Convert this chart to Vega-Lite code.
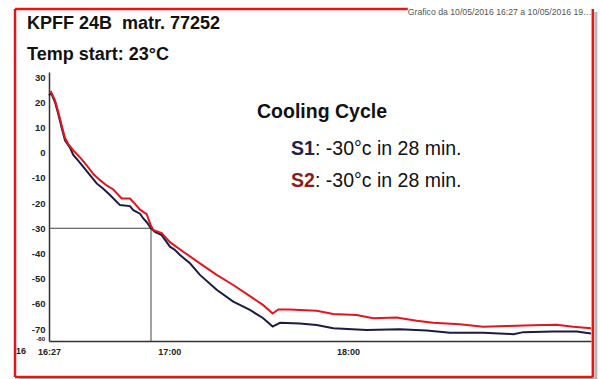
{
  "$schema": "https://vega.github.io/schema/vega-lite/v6.json",
  "width": 542,
  "height": 269,
  "autosize": {"type": "none"},
  "padding": {"left": 49, "top": 72, "right": 9, "bottom": 38},
  "background": "white",
  "config": {"font": "Liberation Sans", "view": {"stroke": null}, "axis": {"labelOverlap": false}},
  "resolve": {"axis": {"x": "independent", "y": "independent"}},
  "layer": [
    {
      "data": {"values": [{}]},
      "mark": {"type": "rule", "color": "#9a9a9a", "strokeWidth": 3, "opacity": 0.7},
      "encoding": {"x": {"datum": 150.15, "type": "quantitative", "axis": null}, "y": {"datum": 55.8, "type": "quantitative", "axis": null}, "y2": {"datum": -89.8}}
    },
    {
      "data": {"values": [{}]},
      "mark": {"type": "rule", "color": "#9a9a9a", "strokeWidth": 3, "opacity": 0.7},
      "encoding": {"x": {"datum": -8.24, "type": "quantitative", "axis": null}, "x2": {"datum": 150.15}, "y": {"datum": -89.7, "type": "quantitative", "axis": null}}
    },
    {
      "data": {"values": [{}]},
      "mark": {"type": "rule", "color": "#e8141c", "strokeWidth": 2.5},
      "encoding": {"x": {"datum": -9.33, "type": "quantitative", "axis": null}, "y": {"datum": 57, "type": "quantitative", "axis": null}, "y2": {"datum": -89.0}}
    },
    {
      "data": {"values": [{}]},
      "mark": {"type": "rule", "color": "#e8141c", "strokeWidth": 2.5},
      "encoding": {"x": {"datum": 149.3, "type": "quantitative", "axis": null}, "y": {"datum": 57, "type": "quantitative", "axis": null}, "y2": {"datum": -89.0}}
    },
    {
      "data": {"values": [{}]},
      "mark": {"type": "rule", "color": "#e8141c", "strokeWidth": 2.5},
      "encoding": {"x": {"datum": -9.33, "type": "quantitative", "axis": null}, "x2": {"datum": 149.3}, "y": {"datum": -89.0, "type": "quantitative", "axis": null}}
    },
    {
      "data": {"values": [{}]},
      "mark": {"type": "rule", "color": "#e8141c", "strokeWidth": 2.5},
      "encoding": {"x": {"datum": -9.33, "type": "quantitative", "axis": null}, "x2": {"datum": 98.5}, "y": {"datum": 57, "type": "quantitative", "axis": null}}
    },
    {
      "data": {"values": [{}]},
      "mark": {"type": "rule", "color": "#444444", "strokeWidth": 1},
      "encoding": {"x": {"datum": 0, "type": "quantitative", "axis": null}, "x2": {"datum": 28}, "y": {"datum": -30, "type": "quantitative", "axis": null}}
    },
    {
      "data": {"values": [{}]},
      "mark": {"type": "rule", "color": "#444444", "strokeWidth": 1},
      "encoding": {"x": {"datum": 28, "type": "quantitative", "axis": null}, "y": {"datum": -30, "type": "quantitative", "axis": null}, "y2": {"datum": -74.72}}
    },
    {
      "data": {"values": [
        {"series": "S1", "min": 0, "temp": 22.7},
        {"series": "S1", "min": 0.55, "temp": 23.7},
        {"series": "S1", "min": 1.65, "temp": 20.1},
        {"series": "S1", "min": 2.55, "temp": 15.3},
        {"series": "S1", "min": 3.49, "temp": 9.8},
        {"series": "S1", "min": 4.39, "temp": 4.9},
        {"series": "S1", "min": 5.76, "temp": 2.0},
        {"series": "S1", "min": 6.67, "temp": -0.9},
        {"series": "S1", "min": 7.96, "temp": -3.1},
        {"series": "S1", "min": 9.42, "temp": -5.6},
        {"series": "S1", "min": 11.25, "temp": -8.9},
        {"series": "S1", "min": 13.08, "temp": -12.2},
        {"series": "S1", "min": 14.82, "temp": -14.2},
        {"series": "S1", "min": 16.74, "temp": -16.8},
        {"series": "S1", "min": 19.49, "temp": -20.8},
        {"series": "S1", "min": 22.23, "temp": -21.2},
        {"series": "S1", "min": 23.14, "temp": -22.8},
        {"series": "S1", "min": 24.98, "temp": -24.2},
        {"series": "S1", "min": 25.89, "temp": -26.1},
        {"series": "S1", "min": 26.9, "temp": -27.7},
        {"series": "S1", "min": 28.0, "temp": -30.0},
        {"series": "S1", "min": 29.1, "temp": -31.4},
        {"series": "S1", "min": 30.94, "temp": -32.7},
        {"series": "S1", "min": 33.2, "temp": -37.3},
        {"series": "S1", "min": 34.6, "temp": -38.6},
        {"series": "S1", "min": 35.96, "temp": -40.6},
        {"series": "S1", "min": 38.7, "temp": -43.9},
        {"series": "S1", "min": 41.44, "temp": -48.5},
        {"series": "S1", "min": 46.03, "temp": -54.4},
        {"series": "S1", "min": 50.58, "temp": -59.1},
        {"series": "S1", "min": 55.17, "temp": -62.4},
        {"series": "S1", "min": 58.82, "temp": -65.7},
        {"series": "S1", "min": 61.4, "temp": -69.0},
        {"series": "S1", "min": 63.4, "temp": -67.5},
        {"series": "S1", "min": 68.9, "temp": -67.8},
        {"series": "S1", "min": 73.48, "temp": -68.4},
        {"series": "S1", "min": 78.04, "temp": -69.7},
        {"series": "S1", "min": 87.2, "temp": -70.4},
        {"series": "S1", "min": 96.3, "temp": -70.1},
        {"series": "S1", "min": 103.7, "temp": -70.6},
        {"series": "S1", "min": 110.1, "temp": -71.4},
        {"series": "S1", "min": 119.2, "temp": -71.4},
        {"series": "S1", "min": 127.5, "temp": -72.0},
        {"series": "S1", "min": 130.2, "temp": -71.2},
        {"series": "S1", "min": 138.4, "temp": -71.0},
        {"series": "S1", "min": 144.85, "temp": -71.0},
        {"series": "S1", "min": 148.8, "temp": -71.7},
        {"series": "S2", "min": 0, "temp": 23.7},
        {"series": "S2", "min": 0.55, "temp": 24.1},
        {"series": "S2", "min": 1.65, "temp": 20.8},
        {"series": "S2", "min": 2.55, "temp": 16.1},
        {"series": "S2", "min": 3.49, "temp": 10.8},
        {"series": "S2", "min": 4.39, "temp": 5.8},
        {"series": "S2", "min": 5.3, "temp": 3.4},
        {"series": "S2", "min": 6.67, "temp": 0.9},
        {"series": "S2", "min": 8.51, "temp": -1.9},
        {"series": "S2", "min": 10.35, "temp": -5.0},
        {"series": "S2", "min": 12.16, "temp": -8.5},
        {"series": "S2", "min": 14.0, "temp": -10.9},
        {"series": "S2", "min": 15.84, "temp": -13.0},
        {"series": "S2", "min": 17.65, "temp": -14.6},
        {"series": "S2", "min": 19.96, "temp": -18.2},
        {"series": "S2", "min": 22.23, "temp": -18.2},
        {"series": "S2", "min": 23.61, "temp": -20.3},
        {"series": "S2", "min": 24.98, "temp": -22.6},
        {"series": "S2", "min": 26.82, "temp": -24.4},
        {"series": "S2", "min": 28.0, "temp": -29.0},
        {"series": "S2", "min": 28.63, "temp": -30.7},
        {"series": "S2", "min": 30.94, "temp": -31.9},
        {"series": "S2", "min": 33.2, "temp": -35.5},
        {"series": "S2", "min": 36.86, "temp": -39.3},
        {"series": "S2", "min": 41.44, "temp": -43.9},
        {"series": "S2", "min": 46.03, "temp": -48.5},
        {"series": "S2", "min": 50.58, "temp": -52.5},
        {"series": "S2", "min": 55.17, "temp": -56.9},
        {"series": "S2", "min": 58.82, "temp": -60.5},
        {"series": "S2", "min": 61.4, "temp": -63.8},
        {"series": "S2", "min": 62.94, "temp": -62.2},
        {"series": "S2", "min": 66.15, "temp": -62.2},
        {"series": "S2", "min": 68.9, "temp": -62.4},
        {"series": "S2", "min": 73.48, "temp": -62.7},
        {"series": "S2", "min": 78.04, "temp": -64.0},
        {"series": "S2", "min": 84.46, "temp": -64.4},
        {"series": "S2", "min": 89.02, "temp": -65.7},
        {"series": "S2", "min": 95.44, "temp": -65.4},
        {"series": "S2", "min": 100.93, "temp": -66.7},
        {"series": "S2", "min": 105.49, "temp": -67.5},
        {"series": "S2", "min": 112.8, "temp": -68.1},
        {"series": "S2", "min": 119.2, "temp": -69.1},
        {"series": "S2", "min": 125.6, "temp": -68.8},
        {"series": "S2", "min": 132.9, "temp": -68.5},
        {"series": "S2", "min": 139.4, "temp": -68.3},
        {"series": "S2", "min": 143.9, "temp": -69.1},
        {"series": "S2", "min": 148.8, "temp": -69.7}
      ]},
      "mark": {"type": "line", "strokeWidth": 2},
      "encoding": {
        "x": {
          "field": "min", "type": "quantitative",
          "scale": {"domain": [0, 148.8], "nice": false, "zero": false},
          "axis": {
            "title": null,
            "values": [0, 33, 82.1],
            "labelExpr": "datum.value < 1 ? '16:27' : datum.value < 50 ? '17:00' : '18:00'",
            "ticks": false, "tickSize": 0, "labelPadding": 6,
            "labelFontSize": 9, "labelFontWeight": "bold", "labelColor": "#222222",
            "labelOverlap": false, "labelFlush": false, "labelBound": false,
            "domainColor": "#333333", "domainWidth": 1.5, "grid": false
          }
        },
        "y": {
          "field": "temp", "type": "quantitative",
          "scale": {"domain": [-74.72, 32], "nice": false, "zero": false},
          "axis": {
            "title": null,
            "values": [-70, -60, -50, -40, -30, -20, -10, 0, 10, 20, 30],
            "labelExpr": "'' + datum.value",
            "labelFontSize": 9.5,
            "ticks": false, "tickSize": 0, "labelPadding": 4,
            "labelFontWeight": "bold", "labelColor": "#222222",
            "labelOverlap": false, "labelFlush": false,
            "domainColor": "#333333", "domainWidth": 1.5, "grid": false
          }
        },
        "color": {
          "field": "series", "type": "nominal",
          "scale": {"domain": ["S1", "S2"], "range": ["#1b1b45", "#e3161d"]},
          "legend": null
        }
      }
    },
    {
      "data": {"values": [{}]},
      "mark": {"type": "text", "text": "-80", "align": "right", "baseline": "middle", "fontSize": 6, "fontWeight": "bold", "color": "#222222", "dx": -4},
      "encoding": {"x": {"datum": 0, "type": "quantitative", "axis": null}, "y": {"datum": -73.94, "type": "quantitative", "axis": null}}
    },
    {
      "data": {"values": [{}]},
      "mark": {"type": "text", "text": "16", "align": "center", "baseline": "top", "fontSize": 9, "fontWeight": "bold", "color": "#222222", "dy": 6},
      "encoding": {"x": {"datum": -7.7, "type": "quantitative", "axis": null}, "y": {"datum": -74.72, "type": "quantitative", "axis": null}}
    },
    {
      "data": {"values": [{}]},
      "mark": {"type": "text", "text": "KPFF 24B\u00a0 matr. 77252", "align": "left", "baseline": "alphabetic", "fontSize": 18, "fontWeight": "bold", "color": "#111111"},
      "encoding": {"x": {"datum": -6.04, "type": "quantitative", "axis": null}, "y": {"datum": 49.05, "type": "quantitative", "axis": null}}
    },
    {
      "data": {"values": [{}]},
      "mark": {"type": "text", "text": "Temp start: 23°C", "align": "left", "baseline": "alphabetic", "fontSize": 18, "fontWeight": "bold", "color": "#111111"},
      "encoding": {"x": {"datum": -6.04, "type": "quantitative", "axis": null}, "y": {"datum": 36.8, "type": "quantitative", "axis": null}}
    },
    {
      "data": {"values": [{}]},
      "mark": {"type": "text", "text": "Grafico da 10/05/2016 16:27 a 10/05/2016 19:00", "align": "left", "baseline": "alphabetic", "fontSize": 8.7, "color": "#555555", "limit": 186, "ellipsis": ""},
      "encoding": {"x": {"datum": 98.5, "type": "quantitative", "axis": null}, "y": {"datum": 54.8, "type": "quantitative", "axis": null}}
    },
    {
      "data": {"values": [{}]},
      "mark": {"type": "text", "text": "Cooling Cycle", "align": "left", "baseline": "alphabetic", "fontSize": 19.5, "fontWeight": "bold", "color": "#111111"},
      "encoding": {"x": {"datum": 57.1, "type": "quantitative", "axis": null}, "y": {"datum": 13.7, "type": "quantitative", "axis": null}}
    },
    {
      "data": {"values": [{}]},
      "mark": {"type": "text", "text": "S1", "align": "left", "baseline": "alphabetic", "fontSize": 19.5, "fontWeight": "bold", "color": "#1f2250"},
      "encoding": {"x": {"datum": 66.43, "type": "quantitative", "axis": null}, "y": {"datum": -0.94, "type": "quantitative", "axis": null}}
    },
    {
      "data": {"values": [{}]},
      "mark": {"type": "text", "text": ": -30°c in 28 min.", "align": "left", "baseline": "alphabetic", "fontSize": 19.5, "color": "#111111", "dx": 24},
      "encoding": {"x": {"datum": 66.43, "type": "quantitative", "axis": null}, "y": {"datum": -0.94, "type": "quantitative", "axis": null}}
    },
    {
      "data": {"values": [{}]},
      "mark": {"type": "text", "text": "S2", "align": "left", "baseline": "alphabetic", "fontSize": 19.5, "fontWeight": "bold", "color": "#8b1c1c"},
      "encoding": {"x": {"datum": 66.43, "type": "quantitative", "axis": null}, "y": {"datum": -13.64, "type": "quantitative", "axis": null}}
    },
    {
      "data": {"values": [{}]},
      "mark": {"type": "text", "text": ": -30°c in 28 min.", "align": "left", "baseline": "alphabetic", "fontSize": 19.5, "color": "#111111", "dx": 24},
      "encoding": {"x": {"datum": 66.43, "type": "quantitative", "axis": null}, "y": {"datum": -13.64, "type": "quantitative", "axis": null}}
    }
  ]
}
